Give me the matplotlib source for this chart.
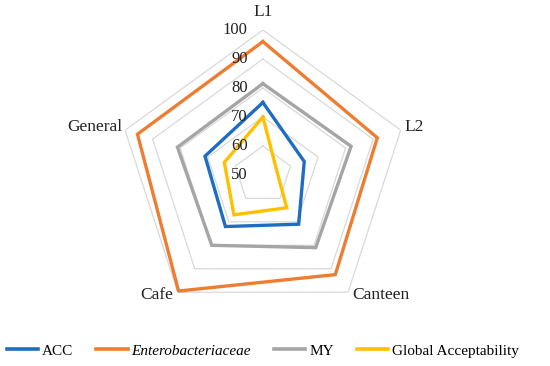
import numpy as np
import matplotlib.pyplot as plt

plt.rcParams['font.family'] = ['Liberation Serif', 'DejaVu Serif']

# data
categories = ['L1', 'L2', 'Canteen', 'Cafe', 'General']
acc = [75, 65, 71, 72, 71]
entero = [96, 91.5, 92.5, 99.5, 95.5]
my = [81.5, 82, 81, 80, 81]
glob = [70, 55, 64, 67, 64]
series_names = ['ACC', 'Enterobacteriaceae', 'MY', 'Global Acceptability']
colors = ['#1F6DC2', '#ED7D31', '#A5A5A5', '#FFC000']
rticks = [50, 60, 70, 80, 90, 100]

n = len(categories)
theta = np.linspace(0, 2 * np.pi, n, endpoint=False)
theta_c = np.append(theta, theta[0])

fig = plt.figure(figsize=(5.5, 3.66), dpi=100)
ax = fig.add_axes([0.2145, 0.126, 0.527, 0.792], projection='polar')
ax.set_theta_offset(np.pi / 2)
ax.set_theta_direction(-1)
ax.set_ylim(50, 100)
ax.grid(False)
ax.spines['polar'].set_visible(False)
ax.set_xticks([])
ax.set_yticks([])

# pentagon grid
for r in rticks[1:]:
    ax.plot(theta_c, [r] * (n + 1), color='#D9D9D9', lw=0.9, zorder=1)

for vals, name, c in zip([acc, entero, my, glob], series_names, colors):
    ax.plot(theta_c, vals + [vals[0]], color=c, lw=2.4, label=name, zorder=3,
            solid_joinstyle='miter')

# radial tick labels
for r in rticks:
    ax.annotate(str(r), xy=(0, r), xytext=(-11, 0), textcoords='offset points',
                ha='right', va='center', fontsize=12, color='#222222', zorder=4)

# category labels
offsets = [(0, 13, 'center'), (3, 2, 'left'), (3, -2, 'left'), (-3, -2, 'right'), (-2, 2, 'right')]
for t, lab, (dx, dy, ha) in zip(theta, categories, offsets):
    ax.annotate(lab, xy=(t, 100), xytext=(dx, dy), textcoords='offset points',
                ha=ha, va='center', fontsize=12.5, color='#222222')

leg = fig.legend(loc='center', bbox_to_anchor=(0.478, 0.041), ncol=4, frameon=False,
                 fontsize=11, handlelength=2.05, handletextpad=0.25, columnspacing=1.5)
leg.get_texts()[1].set_style('italic')
for h in leg.get_lines():
    h.set_linewidth(2.6)

fig.savefig('out.png', dpi=100)
